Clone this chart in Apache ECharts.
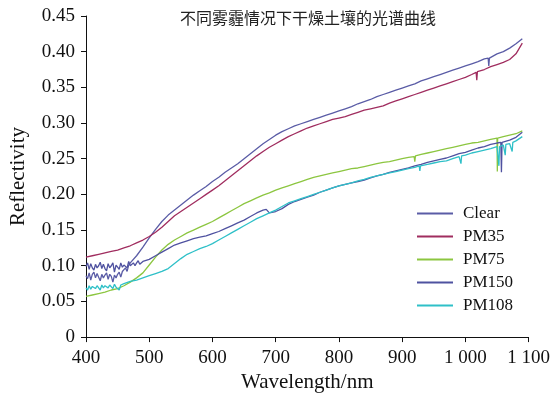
<!DOCTYPE html>
<html>
<head>
<meta charset="utf-8">
<script src="https://cdn.jsdelivr.net/npm/echarts@6/dist/echarts.min.js"></script>
<style>
    html, body { margin: 0; padding: 0; background: #fff; }
    #main { width: 553px; height: 398px; }
</style>
</head>
<body>
<div id="main"></div>
<script>
var wavelengths = [400, 410, 420, 430, 440, 450, 460, 470, 480, 490,
    500, 510, 520, 530, 540, 550, 560, 570, 580, 590,
    600, 610, 620, 630, 640, 650, 660, 670, 680, 690,
    700, 710, 720, 730, 740, 750, 760, 770, 780, 790,
    800, 810, 820, 830, 840, 850, 860, 870, 880, 890,
    900, 910, 920, 930, 940, 950, 960, 970, 980, 990,
    1000, 1010, 1020, 1030, 1040, 1050, 1060, 1070, 1080, 1090];

var clear = [.086, .088, .084, .087, .085, .088, .094, .104, .114, .126,
    .139, .151, .162, .171, .178, .185, .192, .199, .205, .211,
    .218, .224, .231, .237, .243, .250, .257, .264, .271, .277,
    .283, .288, .292, .296, .299, .302, .305, .308, .311, .314,
    .317, .320, .323, .327, .330, .333, .337, .340, .343, .346,
    .349, .352, .355, .359, .362, .365, .368, .371, .374, .377,
    .380, .383, .386, .390, .393, .397, .400, .405, .411, .418];

var pm35 = [.112, .114, .116, .118, .120, .122, .125, .128, .132, .136,
    .141, .147, .154, .162, .170, .176, .182, .188, .194, .200,
    .206, .212, .219, .226, .233, .240, .247, .254, .260, .266,
    .271, .276, .281, .285, .289, .293, .296, .299, .302, .305,
    .307, .309, .312, .315, .318, .320, .322, .324, .328, .331,
    .334, .337, .340, .343, .346, .349, .352, .355, .358, .361,
    .364, .368, .372, .375, .379, .382, .385, .389, .397, .412];

var pm75 = [.057, .059, .061, .063, .066, .068, .072, .077, .083, .090,
    .101, .112, .122, .130, .136, .141, .146, .150, .154, .158,
    .162, .167, .172, .177, .182, .187, .191, .195, .199, .202,
    .206, .209, .212, .215, .218, .221, .224, .226, .228, .230,
    .232, .234, .236, .237, .239, .241, .243, .245, .246, .248,
    .250, .252, .254, .256, .258, .260, .262, .264, .266, .268,
    .270, .272, .273, .275, .277, .279, .281, .283, .285, .289];

var pm150 = [.099, .097, .100, .096, .100, .098, .101, .100, .104, .106,
    .109, .114, .119, .124, .129, .132, .135, .138, .140, .142,
    .145, .148, .152, .156, .160, .164, .169, .174, .178, .174,
    .176, .180, .186, .190, .193, .196, .199, .203, .206, .209,
    .212, .214, .216, .218, .220, .223, .226, .228, .231, .233,
    .235, .237, .240, .242, .245, .247, .249, .251, .254, .257,
    .259, .262, .265, .267, .270, .272, .274, .276, .280, .287];

var pm108 = [.069, .071, .069, .072, .071, .072, .075, .078, .080, .083,
    .086, .089, .092, .096, .103, .110, .116, .120, .124, .127,
    .131, .136, .141, .146, .151, .156, .161, .166, .170, .174,
    .178, .183, .188, .191, .194, .197, .200, .203, .206, .209,
    .212, .214, .216, .219, .221, .224, .226, .228, .230, .232,
    .234, .236, .238, .240, .242, .244, .246, .247, .250, .253,
    .255, .258, .260, .262, .264, .267, .269, .271, .275, .281];

// noise and spikes read between the 10 nm points
var clearExtra = [[402.5, .082], [405, .090], [407.5, .080], [412.5, .091], [415, .083], [417.5, .089],
    [422.5, .079], [425, .088], [427.5, .083], [432.5, .090], [435, .081], [437.5, .088],
    [442.5, .077], [445, .087], [447.5, .083], [452.5, .091], [455, .084], [457.5, .092],
    [462.5, .097], [465, .092], [467.5, .101], [472.5, .105],
    [1036, .391], [1037, .380], [1038, .391]];
var pm35Extra = [[1017, .371], [1018, .360], [1019, .372]];
var pm75Extra = [[919, .253], [920, .246], [921, .254], [1050.5, .232], [1051, .279]];
var pm150Extra = [[402.5, .104], [405, .095], [407.5, .103], [412.5, .094], [415, .102], [417.5, .097],
    [422.5, .105], [425, .096], [427.5, .102], [432.5, .093], [435, .103], [437.5, .097],
    [442.5, .104], [445, .091], [447.5, .101], [452.5, .095], [455, .104], [457.5, .098],
    [462.5, .103], [465, .097], [467.5, .106], [472.5, .099], [475, .104], [477.5, .100],
    [482.5, .107], [485, .102], [685, .179], [1056, .273], [1057, .231], [1058, .273]];
var pm108Extra = [[402.5, .066], [405, .072], [407.5, .067], [412.5, .073], [415, .068], [417.5, .072],
    [422.5, .066], [425, .073], [427.5, .069], [432.5, .074], [435, .069], [437.5, .073],
    [442.5, .068], [445, .074], [447.5, .070], [452.5, .066], [455, .073], [457.5, .071],
    [927, .240], [928, .233], [929, .240], [992, .254], [993, .243], [994, .254],
    [1052, .267], [1053, .240], [1054, .267], [1062, .270], [1063, .255], [1064, .270],
    [1073, .272], [1074, .260], [1075, .273]];

var names = ['Clear', 'PM35', 'PM75', 'PM150', 'PM108'];
var colors = ['#5a5ca6', '#a02d5f', '#8cc640', '#4f52a0', '#2fc0c8'];

function pairs(values, extra) {
    var out = wavelengths.map(function (w, i) { return [w, values[i]]; });
    out = out.concat(extra);
    out.sort(function (a, b) { return a[0] - b[0]; });
    return out;
}

var seriesData = [
    pairs(clear, clearExtra),
    pairs(pm35, pm35Extra),
    pairs(pm75, pm75Extra),
    pairs(pm150, pm150Extra),
    pairs(pm108, pm108Extra)
];

var serif = '"Liberation Serif", "Times New Roman", serif';

var myChart = echarts.init(document.getElementById('main'));
myChart.setOption({
    animation: false,
    backgroundColor: '#fff',
    title: {
        text: '不同雾霾情况下干燥土壤的光谱曲线',
        left: 303,
        top: 5,
        textAlign: 'center',
        textStyle: {
            fontFamily: '"Noto Sans CJK SC", sans-serif',
            fontSize: 16,
            fontWeight: 'normal',
            color: '#222'
        }
    },
    grid: {
        left: 82,
        right: 23,
        top: 16,
        bottom: 56
    },
    legend: {
        orient: 'vertical',
        left: 412,
        top: 200,
        icon: 'rect',
        itemWidth: 36,
        itemHeight: 2,
        itemGap: 6,
        data: names,
        textStyle: {
            fontFamily: serif,
            fontSize: 17,
            lineHeight: 17,
            color: '#111',
            padding: [0, 0, 0, 5]
        }
    },
    xAxis: {
        type: 'value',
        min: 400,
        max: 1100,
        interval: 100,
        name: 'Wavelength/nm',
        nameLocation: 'middle',
        nameGap: 33,
        nameTextStyle: {
            fontFamily: serif,
            fontSize: 21,
            color: '#111'
        },
        axisLine: { lineStyle: { color: '#111', width: 1 } },
        axisTick: { length: 5, lineStyle: { color: '#111' } },
        splitLine: { show: false },
        axisLabel: {
            margin: 11,
            fontFamily: serif,
            fontSize: 19,
            color: '#111',
            formatter: function (v) {
                if (v >= 1000) {
                    return '1 ' + String(v - 1000).padStart(3, '0');
                }
                return String(v);
            }
        }
    },
    yAxis: {
        type: 'value',
        min: 0,
        max: 0.45,
        interval: 0.05,
        name: 'Reflectivity',
        nameLocation: 'middle',
        nameGap: 57,
        nameTextStyle: {
            fontFamily: serif,
            fontSize: 21,
            color: '#111'
        },
        axisLine: { show: true, lineStyle: { color: '#111', width: 1 } },
        axisTick: { show: true, length: 5, lineStyle: { color: '#111' } },
        splitLine: { show: false },
        axisLabel: {
            margin: 11,
            fontFamily: serif,
            fontSize: 19,
            color: '#111',
            formatter: function (v) {
                return v === 0 ? '0' : v.toFixed(2);
            }
        }
    },
    series: names.map(function (n, i) {
        return {
            name: n,
            type: 'line',
            data: seriesData[i],
            symbol: 'none',
            showSymbol: false,
            color: colors[i],
            lineStyle: { width: 1.3, color: colors[i] }
        };
    })
});
</script>
</body>
</html>
